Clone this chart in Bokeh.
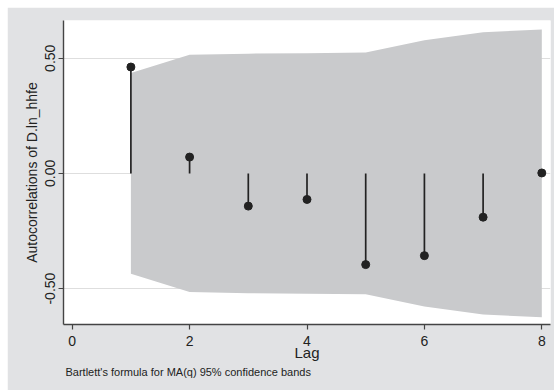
from bokeh.plotting import figure
from bokeh.models import FixedTicker, PrintfTickFormatter, Title, Range1d
from bokeh.embed import file_html
from bokeh.resources import INLINE

lags = [1, 2, 3, 4, 5, 6, 7, 8]
acf = [0.462, 0.071, -0.142, -0.113, -0.396, -0.357, -0.190, 0.002]
band = [0.436, 0.515, 0.520, 0.522, 0.525, 0.578, 0.613, 0.625]
neg_band = [-b for b in band]
zeros = [0.0] * len(lags)
x_ticks = [0, 2, 4, 6, 8]
y_ticks = [-0.5, 0.0, 0.5]

FONT = "Liberation Sans"
BG = "#e1e2e4"
DARK = "#222222"

p = figure(width=547, height=383, output_backend="svg", toolbar_location=None,
           x_range=Range1d(-0.148, 8.148), y_range=Range1d(-0.656, 0.664),
           min_border_left=56, min_border_right=4, min_border_top=13, min_border_bottom=66)
p.margin = (7, 0, 0, 7)
p.background_fill_color = "white"
p.border_fill_color = BG
p.outline_line_color = None

p.varea(x=lags, y1=neg_band, y2=band, fill_color="#c9cacc", fill_alpha=1.0)
p.segment(x0=lags, y0=zeros, x1=lags, y1=acf, line_color=DARK, line_width=1.7)
p.scatter(x=lags, y=acf, size=8, fill_color=DARK, line_color=DARK)

p.xgrid.visible = False
p.ygrid.ticker = FixedTicker(ticks=y_ticks)
p.ygrid.grid_line_color = "#dedede"
p.ygrid.grid_line_width = 1

for ax in (p.xaxis[0], p.yaxis[0]):
    ax.axis_line_color = "#444444"
    ax.axis_line_width = 1.4
    ax.major_tick_line_color = "#444444"
    ax.major_tick_line_width = 1.2
    ax.major_tick_out = 5
    ax.major_tick_in = 0
    ax.minor_tick_line_color = None
    ax.major_label_text_font = FONT
    ax.major_label_text_font_size = "14px"
    ax.major_label_text_color = DARK
    ax.axis_label_text_font = FONT
    ax.axis_label_text_font_style = "normal"
    ax.axis_label_text_color = DARK

p.xaxis.ticker = FixedTicker(ticks=x_ticks)
p.xaxis.axis_label = "Lag"
p.xaxis.axis_label_text_font_size = "15px"
p.xaxis.axis_label_standoff = -5
p.xaxis.major_label_standoff = 6

p.yaxis.ticker = FixedTicker(ticks=y_ticks)
p.yaxis.formatter = PrintfTickFormatter(format="%.2f")
p.yaxis.major_label_orientation = "vertical"
p.yaxis.axis_label = "Autocorrelations of D.ln_hhfe"
p.yaxis.axis_label_text_font_size = "14px"
p.yaxis.axis_label_standoff = 3
p.yaxis.major_label_standoff = 3

cap = Title(text="Bartlett's formula for MA(q) 95% confidence bands", align="left",
            text_font=FONT, text_font_size="11px", text_font_style="normal",
            text_color=DARK, offset=2, standoff=0)
p.add_layout(cap, "below")

open("out.html", "w").write(file_html(p, INLINE))
